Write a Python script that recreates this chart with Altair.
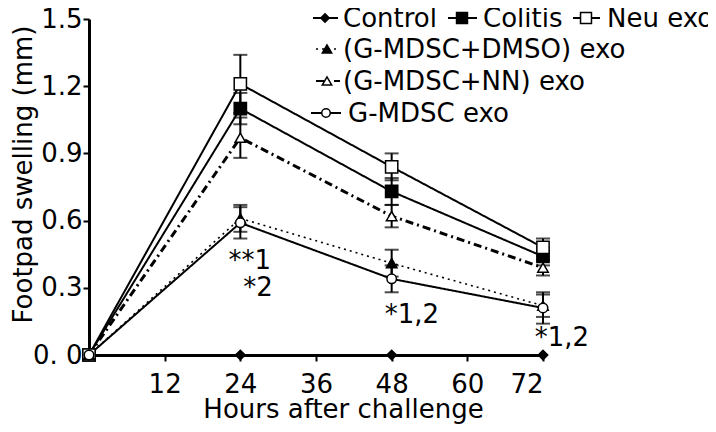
import altair as alt
import pandas as pd

# ---------------- data ----------------
hours = [0, 24, 48, 72]
series_names = ["Control", "Colitis", "Neu exo",
                "(G-MDSC+DMSO) exo", "(G-MDSC+NN) exo", "G-MDSC exo"]

control = [0.0, 0.0, 0.0, 0.0]
colitis = [0.0, 1.10, 0.73, 0.44]
neu_exo = [0.0, 1.21, 0.84, 0.48]
dmso_exo = [0.0, 0.61, 0.41, 0.22]
nn_exo = [0.0, 0.97, 0.62, 0.39]
gmdsc_exo = [0.0, 0.59, 0.34, 0.21]

control_err = [0.0, 0.0, 0.0, 0.0]
colitis_err = [0.0, 0.07, 0.06, 0.04]
neu_exo_err = [0.0, 0.13, 0.06, 0.04]
dmso_exo_err = [0.0, 0.06, 0.06, 0.05]
nn_exo_err = [0.0, 0.09, 0.05, 0.035]
gmdsc_exo_err = [0.0, 0.07, 0.06, 0.07]

values = [control, colitis, neu_exo, dmso_exo, nn_exo, gmdsc_exo]
errors = [control_err, colitis_err, neu_exo_err, dmso_exo_err, nn_exo_err, gmdsc_exo_err]

x_ticks = [12, 24, 36, 48, 60, 72]
y_ticks = [0.0, 0.3, 0.6, 0.9, 1.2, 1.5]

ann_text = ["**1", "*2", "*1,2", "*1,2"]
ann_x = [25.5, 26.8, 51.2, 75.0]
ann_y = [0.42, 0.30, 0.18, 0.076]

# ---------------- styles ----------------
FONT = "DejaVu Sans"
INK = "#000000"
styles = {
    "Control": dict(shape="diamond", filled=True, size=90, dash=[1, 0], width=2),
    "Colitis": dict(shape="square", filled=True, size=150, dash=[1, 0], width=2),
    "Neu exo": dict(shape="square", filled=False, size=150, dash=[1, 0], width=2),
    "(G-MDSC+DMSO) exo": dict(shape="triangle-up", filled=True, size=110, dash=[2, 4], width=1.6),
    "(G-MDSC+NN) exo": dict(shape="triangle-up", filled=False, size=110, dash=[8, 4, 2, 4], width=3),
    "G-MDSC exo": dict(shape="circle", filled=False, size=90, dash=[1, 0], width=2),
}

# legend layout (pixel positions inside the plot area)
legend_layout = {
    "Control": dict(x1=224, x2=249, px=236, y=-1, tx=254),
    "Colitis": dict(x1=359, x2=388, px=373, y=-1, tx=394),
    "Neu exo": dict(x1=484, x2=511, px=497, y=-1, tx=518),
    "(G-MDSC+DMSO) exo": dict(x1=227, x2=251, px=238, y=30, tx=254),
    "(G-MDSC+NN) exo": dict(x1=227, x2=251, px=238, y=62, tx=254),
    "G-MDSC exo": dict(x1=222, x2=252, px=237, y=94, tx=259),
}

# ---------------- encodings ----------------
x_enc = alt.X(
    "hours:Q",
    scale=alt.Scale(domain=[0, 72], nice=False, zero=True),
    axis=alt.Axis(values=x_ticks, title="Hours after challenge", labelPadding=10,
                  titleX=254, titleY=62, titleAlign="center", titleBaseline="alphabetic"),
)
y_enc = alt.Y(
    "value:Q",
    scale=alt.Scale(domain=[0, 1.5], nice=False),
    axis=alt.Axis(values=y_ticks, title="Footpad swelling (mm)", labelPadding=1,
                  labelExpr="datum.value == 0 ? '0. 0' : format(datum.value, '.1f')",
                  titleAngle=270, titleX=-58, titleY=155, titleAlign="center",
                  titleBaseline="alphabetic"),
)

layers = []
frames = {}
for name, vals, errs in zip(series_names, values, errors):
    df = pd.DataFrame({"hours": hours, "value": vals, "err": errs})
    df["lo"] = df["value"] - df["err"]
    df["hi"] = df["value"] + df["err"]
    frames[name] = df

# lines
for name in series_names:
    st = styles[name]
    layers.append(
        alt.Chart(frames[name]).mark_line(color=INK, strokeWidth=st["width"],
                                          strokeDash=st["dash"])
        .encode(x=x_enc, y=y_enc)
    )

# error bars
for name in series_names:
    df = frames[name][frames[name]["err"] > 0]
    if len(df) == 0:
        continue
    base = alt.Chart(df)
    layers.append(
        base.mark_rule(color=INK, strokeWidth=2).encode(
            x=x_enc, y=alt.Y("lo:Q"), y2=alt.Y2("hi:Q"))
    )
    layers.append(
        base.mark_tick(color=INK, thickness=2, size=14, orient="horizontal").encode(
            x=x_enc, y=alt.Y("lo:Q"))
    )
    layers.append(
        base.mark_tick(color=INK, thickness=2, size=14, orient="horizontal").encode(
            x=x_enc, y=alt.Y("hi:Q"))
    )

# points
for name in series_names:
    st = styles[name]
    layers.append(
        alt.Chart(frames[name]).mark_point(
            shape=st["shape"], size=st["size"], filled=True,
            fill=INK if st["filled"] else "white", stroke=INK, strokeWidth=1.5,
            opacity=1)
        .encode(x=x_enc, y=y_enc)
    )

# annotations
ann_df = pd.DataFrame({"hours": ann_x, "value": ann_y, "label": ann_text})
layers.append(
    alt.Chart(ann_df).mark_text(font=FONT, fontSize=26, color=INK, align="center",
                                baseline="middle")
    .encode(x=x_enc, y=y_enc, text="label:N")
)

# legend (manual, to reproduce the 3 + 1 + 1 + 1 layout)
one = pd.DataFrame({"k": [0]})
for name in series_names:
    st = styles[name]
    lay = legend_layout[name]
    layers.append(
        alt.Chart(one).mark_rule(color=INK, strokeWidth=min(st["width"], 2.2),
                                 strokeDash=st["dash"])
        .encode(x=alt.value(lay["x1"]), x2=alt.value(lay["x2"]), y=alt.value(lay["y"]))
    )
    layers.append(
        alt.Chart(one).mark_point(shape=st["shape"], size=st["size"] * 0.8, filled=True,
                                  fill=INK if st["filled"] else "white", stroke=INK,
                                  strokeWidth=1.5, opacity=1)
        .encode(x=alt.value(lay["px"]), y=alt.value(lay["y"]))
    )
    layers.append(
        alt.Chart(one).mark_text(text=name, font=FONT, fontSize=26, color=INK,
                                 align="left", baseline="middle")
        .encode(x=alt.value(lay["tx"]), y=alt.value(lay["y"] + 1))
    )

chart = (
    alt.layer(*layers)
    .properties(width=454, height=336, autosize=alt.AutoSizeParams(type="none"),
                padding={"left": 81, "top": 11, "right": 165, "bottom": 69})
    .configure_view(stroke=None)
    .configure_axis(
        domainColor=INK, domainWidth=3, tickColor=INK, tickWidth=2, tickSize=6,
        grid=False, labelFont=FONT, labelFontSize=26, labelColor=INK,
        titleFont=FONT, titleFontSize=26, titleFontWeight="normal", titleColor=INK,
    )
)

chart.save("out.html", embed_options={"renderer": "svg", "actions": False})
